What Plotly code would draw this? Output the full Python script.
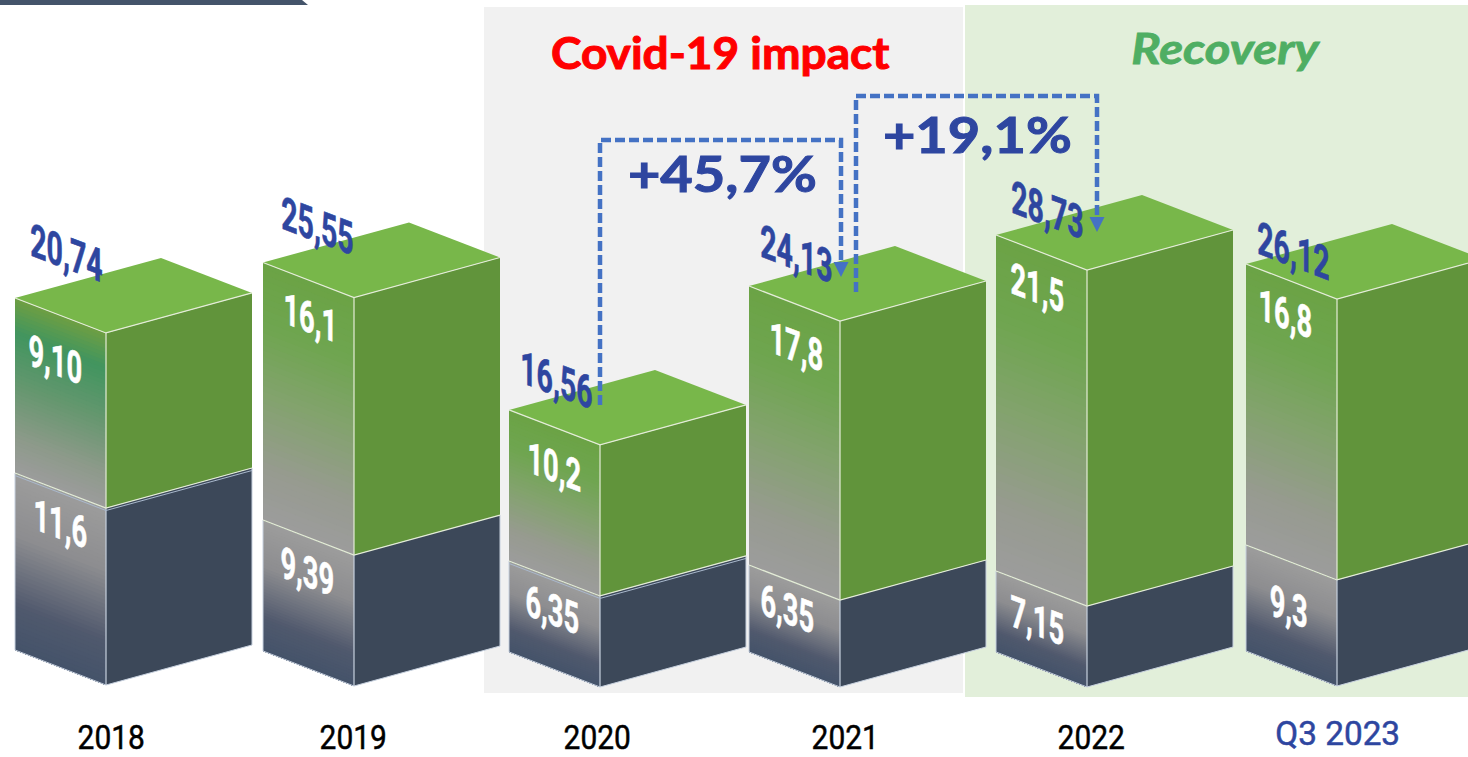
import json
import plotly.graph_objects as go

# ---- data -------------------------------------------------------------
periods = ["2018", "2019", "2020", "2021", "2022", "Q3 2023"]
lower_values = ["11,6", "9,39", "6,35", "6,35", "7,15", "9,3"]
upper_values = ["9,10", "16,1", "10,2", "17,8", "21,5", "16,8"]
total_values = ["20,74", "25,55", "16,56", "24,13", "28,73", "26,12"]
# block heights as drawn in the picture, in chart units
lower_heights = [11.8, 8.73, 6.07, 5.8, 5.4, 7.07]
upper_heights = [11.67, 17.17, 10.07, 18.6, 22.4, 18.73]
growth_labels = ["+45,7%", "+19,1%"]
phase_labels = ["Covid-19 impact", "Recovery"]

# ---- layout (pixels on x, chart units on y) ----------------------------
W, H = 1468, 757
UNIT = 15.0
front_x = [106, 354, 600, 840, 1087, 1337]
front_base_px = [685, 686, 687, 687, 687, 686]
LEFT_DX, LEFT_DY = 91, 35
RIGHT_DX, RIGHT_DY = 146, 40


def Y(px):
    return (H - px) / UNIT


upper_stops = [(0, "#6ba345"), (0.25, "#6fa550"), (0.5, "#82a36c"), (0.8, "#979b90"), (1, "#9c9c9c")]
teal_stops = [(0, "#6f9f42"), (0.2, "#41955f"), (0.5, "#65976f"), (0.8, "#8d9a8a"), (1, "#9c9c9c")]
lower_stops = [(0, "#9c9c9c"), (0.35, "#8d8d90"), (0.75, "#50596d"), (1, "#44536a")]


def mix(stops, t):
    for (a, ca), (b, cb) in zip(stops, stops[1:]):
        if t <= b:
            f = (t - a) / (b - a)
            c1 = [int(ca[i:i + 2], 16) for i in (1, 3, 5)]
            c2 = [int(cb[i:i + 2], 16) for i in (1, 3, 5)]
            return "rgb(%d,%d,%d)" % tuple(round(p + (q - p) * f) for p, q in zip(c1, c2))
    return stops[-1][1]


fig = go.Figure()


def poly(xs, ys, color):
    fig.add_trace(go.Scatter(x=xs + xs[:1], y=ys + ys[:1], mode="lines", fill="toself",
                             fillcolor=color, line=dict(width=0, color=color),
                             hoverinfo="skip", showlegend=False))


def edge(xs, ys, color, width=1.2):
    fig.add_trace(go.Scatter(x=xs, y=ys, mode="lines", line=dict(width=width, color=color),
                             hoverinfo="skip", showlegend=False))


def left_face(fx, y0, y1, stops, n=44):
    # y0 bottom, y1 top of the front edge; colour runs parallel to the top edge
    dy = LEFT_DY / UNIT
    for i in range(n):
        t = i / n
        yt = y1 + (y0 - y1) * t
        poly([fx - LEFT_DX, fx, fx, fx - LEFT_DX], [yt + dy, yt, y0, y0 + dy], mix(stops, t + 0.5 / n))


GREEN_TOP, GREEN_SIDE, NAVY_SIDE = "#78b74a", "#61943b", "#3c4859"
EDGE_G, EDGE_N = "#e4ecd8", "#c6d0de"

for i, fx in enumerate(front_x):
    base = Y(front_base_px[i])
    mid = base + lower_heights[i]
    top = mid + upper_heights[i]
    ld, rd = LEFT_DY / UNIT, RIGHT_DY / UNIT
    lx, rx = fx - LEFT_DX, fx + RIGHT_DX
    # right faces
    poly([fx, rx, rx, fx], [base, base + rd, mid + rd, mid], NAVY_SIDE)
    poly([fx, rx, rx, fx], [mid, mid + rd, top + rd, top], GREEN_SIDE)
    # left faces
    left_face(fx, base, mid, lower_stops)
    left_face(fx, mid, top, teal_stops if i == 0 else upper_stops)
    # top face
    poly([fx, rx, fx + RIGHT_DX - LEFT_DX, lx], [top, top + rd, top + rd + ld, top + ld], GREEN_TOP)
    # edges
    edge([lx, fx, rx], [top + ld, top, top + rd], EDGE_G)
    edge([fx, fx], [mid, top], EDGE_G)
    edge([fx, fx], [base, mid], EDGE_N)
    edge([lx, lx], [base + ld, mid + ld], EDGE_N, 1)
    edge([rx, rx], [base + rd, mid + rd], EDGE_N, 1)
    edge([lx, fx, rx], [base + ld, base, base + rd], EDGE_N, 1)
    edge([lx, fx, rx], [mid + ld, mid, mid + rd], EDGE_G)
    if i in (0, 2):
        g = 2.5 / UNIT
        edge([lx, fx, rx], [mid + ld - g, mid - g, mid + rd - g], "#a9b8cc", 1)

# ---- growth connectors --------------------------------------------------
DASH = "#4472c4"
conn_x = [[600, 600, 841, 841], [856, 856, 1097, 1097]]
conn_y_px = [[405, 140, 140, 263], [292, 96, 96, 218]]
for xs, ys in zip(conn_x, conn_y_px):
    fig.add_trace(go.Scatter(x=xs, y=[Y(p) for p in ys], mode="lines",
                             line=dict(color=DASH, width=4.5, dash="10px,4px"),
                             hoverinfo="skip", showlegend=False))
    ax, ay = xs[-1], ys[-1] - 1
    poly([ax - 7.5, ax + 7.5, ax], [Y(ay), Y(ay), Y(ay + 15)], DASH)

# ---- text -----------------------------------------------------------------
COND = "Roboto, sans-serif"
ROUND = "Lato, sans-serif"
NAVY_TXT = "#2e46a0"
ann = []
squeeze = []   # per annotation: horizontal scale, baseline slope, extra stroke


def text(x, ypx, s, size, color, family=COND, weight=700, italic=False, sx=1.0, k=0.0, stroke=0.0):
    ann.append(dict(x=x, y=Y(ypx), xref="x", yref="y", text=s, showarrow=False,
                    xanchor="center", yanchor="middle",
                    font=dict(family=family, size=size, color=color, weight=weight,
                              style="italic" if italic else "normal")))
    squeeze.append(dict(sx=sx, k=k, w=stroke, c=color))


total_pos = [(66, 253), (317, 226), (556, 380), (796, 254), (1047, 210), (1293, 251)]
upper_pos = [(55, 360), (310, 318), (554, 467), (796, 347), (1037, 288), (1285, 314)]
lower_pos = [(60, 524), (307, 572), (552, 610), (787, 609), (1037, 621), (1288, 607)]
period_pos = [(111, 737), (353, 737), (597, 737), (845, 737), (1091, 737), (1337, 733)]
SLOPE = 0.38
for i in range(6):
    text(*total_pos[i], total_values[i], 46, NAVY_TXT, sx=0.62, k=SLOPE, stroke=0.6)
    text(*upper_pos[i], upper_values[i], 44, "#ffffff", sx=0.62, k=SLOPE, stroke=0.6)
    text(*lower_pos[i], lower_values[i], 44, "#ffffff", sx=0.62, k=SLOPE, stroke=0.6)
    if i < 5:
        text(*period_pos[i], periods[i], 34, "#000000", weight=400, sx=0.88, stroke=0.5)
    else:
        text(*period_pos[i], periods[i], 34, NAVY_TXT, weight=400, sx=0.98, stroke=0.5)

text(720, 52, phase_labels[0], 43, "#ff0000", family=ROUND, weight=700, sx=1.07, stroke=1.0)
text(1226, 48, phase_labels[1], 42, "#4fae63", family=ROUND, weight=700, italic=True, sx=1.17, stroke=0.8)
text(722, 173, growth_labels[0], 50, NAVY_TXT, family=ROUND, weight=700, sx=1.12, stroke=1.0)
text(977, 134, growth_labels[1], 50, NAVY_TXT, family=ROUND, weight=700, sx=1.12, stroke=1.0)

shapes = [
    dict(type="rect", xref="x", yref="y", x0=484, x1=963, y0=Y(693), y1=Y(7),
         fillcolor="#f1f1f1", line_width=0, layer="below"),
    dict(type="rect", xref="x", yref="y", x0=965, x1=1468, y0=Y(697), y1=Y(5),
         fillcolor="#e2efda", line_width=0, layer="below"),
    dict(type="path", xref="x", yref="y", layer="below", line_width=0, fillcolor="#44546a",
         path="M 0 %f L 302 %f L 308 %f L 0 %f Z" % (Y(0), Y(0), Y(5), Y(5))),
]

fig.update_layout(
    width=W, height=H, margin=dict(l=0, r=0, t=0, b=0),
    paper_bgcolor="#ffffff", plot_bgcolor="rgba(0,0,0,0)", showlegend=False,
    xaxis=dict(range=[0, W], visible=False, fixedrange=True),
    yaxis=dict(range=[0, H / UNIT], visible=False, fixedrange=True),
    shapes=shapes, annotations=ann,
)
post = """
document.body.style.margin='0';document.body.style.overflow='hidden';
var specs=%s;
document.querySelectorAll('g.annotation').forEach(function(g){
  var s=specs[+g.getAttribute('data-index')]; var t=g.querySelector('text');
  if(!s||!t)return;
  var b=t.getBBox(),cx=b.x+b.width/2,cy=b.y+b.height/2;
  t.setAttribute('transform','translate('+cx+' '+cy+') matrix('+s.sx+' '+(s.k*s.sx)+' 0 1 0 0) translate('+(-cx)+' '+(-cy)+')');
  if(s.w>0){t.style.stroke=s.c;t.style.strokeWidth=s.w+'px';}
});
""" % json.dumps(squeeze)
fig.write_html("out.html", config={"displayModeBar": False}, post_script=post)
